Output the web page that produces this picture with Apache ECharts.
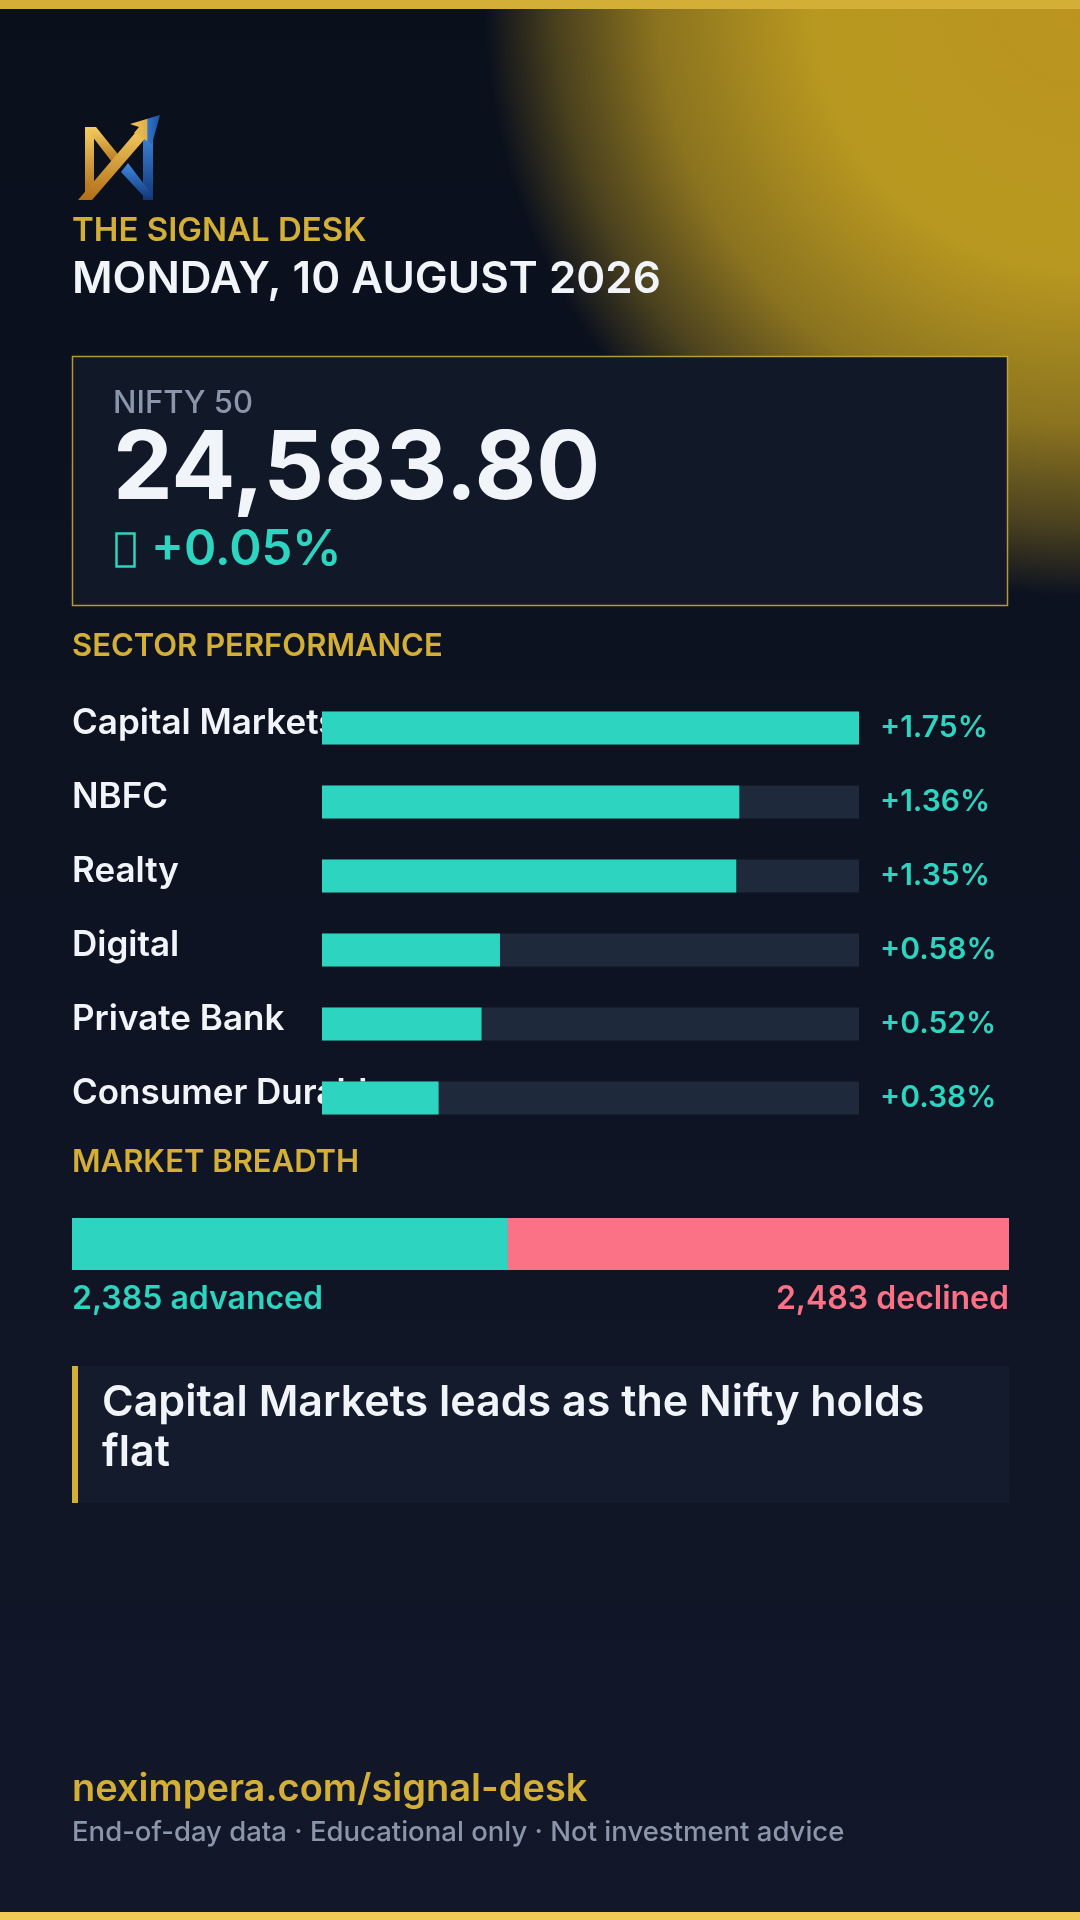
<!DOCTYPE html>
<html>
<head>
<meta charset="utf-8">
<title>The Signal Desk</title>
<script src="https://cdn.jsdelivr.net/npm/echarts@6.0.0/dist/echarts.min.js"></script>
<style>
  html, body { margin: 0; padding: 0; background: #0a0f1c; }
  #main { width: 1080px; height: 1920px; }
</style>
</head>
<body>
<div id="main"></div>
<script>
// data
const sectorNames = ['Capital Markets', 'NBFC', 'Realty', 'Digital', 'Private Bank', 'Consumer Durables'];
const sectorChanges = [1.75, 1.36, 1.35, 0.58, 0.52, 0.38];

const indexName = 'NIFTY 50';
const indexLevel = ['24,583.80'];
const indexChange = [0.05];

const breadthCounts = [2385, 2483];      // advanced, declined
const breadthUnchanged = [261];          // not labelled, read off the bar split
const breadthNames = ['advanced', 'declined'];

const FONT = 'Inter, "DM Sans", sans-serif';
const GOLD = '#d4af37';
const TEAL = '#2dd4bf';
const ROSE = '#fb7185';
const WHITE = '#f1f5f9';
const MUTED = '#8b96aa';

let chart = echarts.init(document.getElementById('main'), null, {
  width: 1080,
  height: 1920,
  renderer: 'canvas'
});

const sectorMax = Math.max.apply(null, sectorChanges);
const trackValues = sectorChanges.map(function () { return sectorMax; });
const breadthTotal = breadthCounts[0] + breadthCounts[1] + breadthUnchanged[0];

function fmtPct(v) {
  return (v >= 0 ? '+' : '') + v.toFixed(2) + '%';
}
function fmtInt(v) {
  return v.toLocaleString('en-US');
}

function text(x, y, str, size, color, weight, extra) {
  let s = {
    text: str,
    fill: color,
    font: weight + ' ' + size + 'px ' + FONT,
    verticalAlign: 'middle',
    align: 'left'
  };
  if (extra) Object.assign(s, extra);
  return { type: 'text', x: x, y: y, z: 10, style: s };
}

const goldGrad = new echarts.graphic.LinearGradient(0, 0, 0, 1, [
  { offset: 0, color: '#f6cf62' },
  { offset: 1, color: '#b06e18' }
]);
const blueGrad = new echarts.graphic.LinearGradient(0, 0, 0, 1, [
  { offset: 0, color: '#3f8be0' },
  { offset: 1, color: '#123478' }
]);
const headGrad = new echarts.graphic.LinearGradient(0, 0, 1, 0, [
  { offset: 0, color: '#f2c45a' },
  { offset: 0.55, color: '#e0b04a' },
  { offset: 0.6, color: '#2f74c8' },
  { offset: 1, color: '#1c4fa0' }
]);

let graphics = [
  // page background
  {
    type: 'rect', z: -20, silent: true,
    shape: { x: 0, y: 0, width: 1080, height: 1920 },
    style: {
      fill: new echarts.graphic.LinearGradient(0, 0, 0, 1, [
        { offset: 0, color: '#0a0f1c' },
        { offset: 1, color: '#121829' }
      ])
    }
  },
  // gold glow, top right
  {
    type: 'circle', z: -19, silent: true,
    shape: { cx: 1080, cy: 0, r: 596 },
    style: {
      fill: new echarts.graphic.RadialGradient(0.5, 0.5, 0.5, [
        { offset: 0, color: 'rgba(186,148,31,1)' },
        { offset: 0.45, color: 'rgba(184,152,32,1)' },
        { offset: 0.71, color: 'rgba(184,150,32,0.74)' },
        { offset: 0.88, color: 'rgba(184,150,32,0.36)' },
        { offset: 1, color: 'rgba(184,150,32,0)' }
      ])
    }
  },
  // top and bottom rules
  { type: 'rect', z: 5, shape: { x: 0, y: 0, width: 1080, height: 9 }, style: { fill: GOLD } },
  { type: 'rect', z: 5, shape: { x: 0, y: 1912, width: 1080, height: 8 }, style: { fill: '#f0c956' } },

  // logo
  { type: 'polygon', z: 6, shape: { points: [[85, 127], [94, 127], [94, 186], [85, 195]] }, style: { fill: goldGrad } },
  { type: 'polygon', z: 6, shape: { points: [[85, 127], [96, 127], [121, 158], [115, 166]] }, style: { fill: goldGrad } },
  { type: 'polygon', z: 6, shape: { points: [[143, 141], [153, 130], [153, 200], [143, 200]] }, style: { fill: blueGrad } },
  { type: 'polygon', z: 6, shape: { points: [[121, 172], [128, 163], [153, 196], [147, 200]] }, style: { fill: blueGrad } },
  { type: 'polygon', z: 7, shape: { points: [[78, 200], [92, 200], [149, 134], [141, 126]] }, style: { fill: goldGrad } },
  { type: 'polygon', z: 7, shape: { points: [[160, 115], [130, 124], [139, 127], [134, 133], [152, 144]] }, style: { fill: headGrad } },

  // header
  text(72, 231, 'THE SIGNAL DESK', 33, GOLD, 600),
  text(72, 280, 'MONDAY, 10 AUGUST 2026', 44, WHITE, 600),

  // index card
  {
    type: 'rect', z: 1,
    shape: { x: 72.5, y: 356.5, width: 935, height: 249 },
    style: { fill: '#111827', stroke: 'rgba(212,175,55,0.85)', lineWidth: 1.5 }
  },
  text(113, 404, indexName, 31, MUTED, 500),
  text(113, 470, indexLevel[0], 95, WHITE, 700),
  {
    type: 'rect', z: 10,
    shape: { x: 116.5, y: 533.5, width: 18, height: 33 },
    style: { fill: 'none', stroke: TEAL, lineWidth: 2.5 }
  },
  text(151, 550, fmtPct(indexChange[0]), 49, TEAL, 600),

  // section titles
  text(72, 647, 'SECTOR PERFORMANCE', 31, GOLD, 600),
  text(72, 1163, 'MARKET BREADTH', 31, GOLD, 600),

  // breadth labels
  text(72, 1299, fmtInt(breadthCounts[0]) + ' ' + breadthNames[0], 32, TEAL, 600),
  text(1009, 1299, fmtInt(breadthCounts[1]) + ' ' + breadthNames[1], 32, ROSE, 600, { align: 'right' }),

  // takeaway box
  { type: 'rect', z: 1, shape: { x: 72, y: 1366, width: 937, height: 137 }, style: { fill: '#141b2c' } },
  { type: 'rect', z: 2, shape: { x: 72, y: 1366, width: 6, height: 137 }, style: { fill: GOLD } },
  {
    type: 'text', x: 102, y: 1378, z: 10,
    style: {
      text: 'Capital Markets leads as the Nifty holds flat',
      fill: WHITE,
      font: '600 43px ' + FONT,
      width: 870,
      overflow: 'break',
      lineHeight: 50,
      verticalAlign: 'top'
    }
  },

  // footer
  text(72, 1790, 'neximpera.com/signal-desk', 38, GOLD, 600),
  text(72, 1833, 'End-of-day data · Educational only · Not investment advice', 27.5, MUTED, 500)
];

let option = {
  backgroundColor: '#0a0f1c',
  animation: false,
  textStyle: { fontFamily: FONT },
  graphic: { elements: graphics },
  grid: [
    { left: 322, top: 691, width: 537, height: 444 },
    { left: 72, top: 1218, width: 937, height: 52 }
  ],
  xAxis: [
    { gridIndex: 0, type: 'value', min: 0, max: sectorMax, show: false },
    { gridIndex: 1, type: 'value', min: 0, max: breadthTotal, show: false }
  ],
  yAxis: [
    {
      gridIndex: 0, type: 'category', data: sectorNames, inverse: true,
      axisLine: { show: false }, axisTick: { show: false }, splitLine: { show: false },
      axisLabel: {
        interval: 0,
        align: 'left',
        verticalAlign: 'bottom',
        lineHeight: 9,
        margin: 250,
        color: WHITE,
        fontFamily: FONT,
        fontSize: 35,
        fontWeight: 600
      }
    },
    { gridIndex: 1, type: 'category', data: ['breadth'], show: false }
  ],
  series: [
    {
      name: 'track', type: 'bar', xAxisIndex: 0, yAxisIndex: 0,
      data: trackValues, barWidth: 33, silent: true,
      itemStyle: { color: '#1e293b' },
      label: {
        show: true, position: 'right', distance: 21,
        color: TEAL, fontFamily: FONT, fontSize: 30, fontWeight: 600,
        formatter: function (p) { return fmtPct(sectorChanges[p.dataIndex]); }
      }
    },
    {
      name: 'change', type: 'bar', xAxisIndex: 0, yAxisIndex: 0,
      data: sectorChanges, barWidth: 33, barGap: '-100%',
      itemStyle: { color: TEAL }
    },
    // declined (and the unlabelled rest) fill the whole breadth bar, advanced sits on top
    {
      name: 'declined', type: 'bar', xAxisIndex: 1, yAxisIndex: 1,
      data: [breadthTotal], barWidth: 52, silent: true,
      itemStyle: { color: ROSE }
    },
    {
      name: 'advanced', type: 'bar', xAxisIndex: 1, yAxisIndex: 1,
      data: [breadthCounts[0]], barWidth: 52, barGap: '-100%',
      itemStyle: { color: TEAL }
    }
  ]
};

chart.setOption(option);
</script>
</body>
</html>
